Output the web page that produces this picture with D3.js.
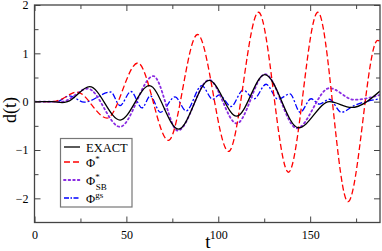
<!DOCTYPE html>
<html>
<head>
<meta charset="utf-8">
<script src="https://cdn.jsdelivr.net/npm/d3@7"></script>
<style>
  body { margin: 0; background: #fff; }
  text { font-family: "Liberation Serif", "DejaVu Serif", serif; }
</style>
</head>
<body>
<svg id="chart" width="382" height="251"></svg>
<script>
// values (t, d)
var exactPts = [[0,0],[10,0],[15,-0.02],[18,0],[30,0.31],[46.6,-0.38],[62.5,0.33],[78.3,-0.57],
  [95,0.44],[110,-0.3],[125.3,0.56],[143.7,-0.54],[160.5,0.0],[172.5,-0.12],[188,0.22]];
var phiPts = [[0,0],[10,0],[14,0.04],[23,0.2],[39.5,-0.34],[56.2,0.8],[72.9,-0.8],[88.7,1.39],
  [105.6,-1.03],[121.9,1.85],[138.2,-1.46],[154.2,1.85],[170.6,-2.07],[186.7,1.27],[188,1.25]];
var phiSBPts = [[0,0],[15,0],[29,0.27],[46.5,-0.52],[64.7,0.53],[78,-0.6],[95,0.45],[110,-0.45],
  [125.5,0.57],[142.8,-0.55],[160.5,0.28],[174,0.04],[188,0.14]];
var phiGSPts = [[0,0],[12,0],[19,0.12],[27,-0.01],[41.5,0.2],[46.5,-0.08],[52.5,0.21],[58.5,-0.13],
  [63,0.12],[68.5,-0.22],[76.5,0.1],[82.5,-0.19],[91,0.33],[97,0.05],[100.5,0.14],[107,-0.1],
  [113.5,0.24],[119.5,0.06],[126,0.36],[132.5,0.05],[139,0.16],[144.6,-0.22],[150.5,0.06],
  [155,-0.05],[160.5,0.05],[167,-0.22],[174,-0.08],[188,0.06]];

var xMajor = [0, 50, 100, 150];
var yMajor = [-2, -1, 0, 1, 2];

var series = [
  {name: 'EXACT', pts: exactPts, color: '#000', dash: null, w: 1.3},
  {name: 'phi', pts: phiPts, color: '#ff0000', dash: '6,3', w: 1.3},
  {name: 'phiSB', pts: phiSBPts, color: '#8a2be2', dash: '1.6,3', w: 1.8},
  {name: 'phiGS', pts: phiGSPts, color: '#0000ff', dash: '6,2,2,2', w: 1.3}
];

var svg = d3.select('#chart');
var pLeft = 34.5, pRight = 380, pTop = 5, pBottom = 222.5;

var x = d3.scaleLinear().domain([0, 188]).range([pLeft, pRight]);
var y = d3.scaleLinear().domain([-2.5, 2]).range([pBottom, pTop]);

svg.append('clipPath').attr('id', 'clip')
  .append('rect').attr('x', pLeft).attr('y', pTop)
  .attr('width', pRight - pLeft).attr('height', pBottom - pTop);

var line = d3.line()
  .x(function(d) { return x(d[0]); })
  .y(function(d) { return y(d[1]); })
  .curve(d3.curveMonotoneX);

var plot = svg.append('g').attr('clip-path', 'url(#clip)');
[series[3], series[2], series[1], series[0]].forEach(function(s) {
  plot.append('path')
    .attr('d', line(s.pts))
    .attr('fill', 'none')
    .attr('stroke', s.color)
    .attr('stroke-width', s.w)
    .attr('stroke-dasharray', s.dash)
    .attr('stroke-linecap', s.name == 'phiSB' ? 'round' : 'butt');
});

// axes with inward ticks on all four sides
var xMinor = d3.range(25, 188, 50);
var yMinor = [-1.5, -0.5, 0.5, 1.5];

function addAxis(ax, tr, minorAx) {
  var g = svg.append('g').attr('transform', tr).call(ax);
  g.select('.domain').remove();
  g.selectAll('.tick line').attr('stroke', '#444').attr('stroke-width', 1);
  g.selectAll('.tick text').attr('fill', '#000').style('font-size', '12px')
    .style('font-family', '"Liberation Serif", serif');
  var m = svg.append('g').attr('transform', tr).call(minorAx);
  m.select('.domain').remove();
  m.selectAll('.tick line').attr('stroke', '#444').attr('stroke-width', 1);
}
addAxis(d3.axisBottom(x).tickValues(xMajor).tickSize(-6).tickPadding(8).tickFormat(d3.format('d')),
  'translate(0,' + pBottom + ')',
  d3.axisBottom(x).tickValues(xMinor).tickSize(-4).tickFormat(''));
addAxis(d3.axisTop(x).tickValues(xMajor).tickSize(-6).tickFormat(''),
  'translate(0,' + pTop + ')',
  d3.axisTop(x).tickValues(xMinor).tickSize(-4).tickFormat(''));
addAxis(d3.axisLeft(y).tickValues(yMajor).tickSize(-6).tickPadding(6).tickFormat(d3.format('d')),
  'translate(' + pLeft + ',0)',
  d3.axisLeft(y).tickValues(yMinor).tickSize(-4).tickFormat(''));
addAxis(d3.axisRight(y).tickValues(yMajor).tickSize(-6).tickFormat(''),
  'translate(' + pRight + ',0)',
  d3.axisRight(y).tickValues(yMinor).tickSize(-4).tickFormat(''));

svg.append('rect')
  .attr('x', pLeft).attr('y', pTop)
  .attr('width', pRight - pLeft).attr('height', pBottom - pTop)
  .attr('fill', 'none').attr('stroke', '#444').attr('stroke-width', 1.3);

// axis titles
svg.append('text').attr('x', 208).attr('y', 248)
  .attr('text-anchor', 'middle').style('font-size', '19px').text('t');
svg.append('text')
  .attr('transform', 'translate(16,110) rotate(-90)')
  .attr('text-anchor', 'middle').style('font-size', '18px').text('d(t)');

// legend
var lg = svg.append('g');
lg.append('rect').attr('x', 60.5).attr('y', 138.5).attr('width', 71.5).attr('height', 68.5)
  .attr('fill', '#fff').attr('stroke', '#777').attr('stroke-width', 1.2);

var legendY = [147, 162, 180, 198];
series.forEach(function(s, i) {
  var ly = legendY[i];
  lg.append('line').attr('x1', 64).attr('x2', 80).attr('y1', ly).attr('y2', ly)
    .attr('stroke', s.color).attr('stroke-width', s.w)
    .attr('stroke-dasharray', s.name == 'phiGS' ? '5,1.5,1.5,1.5' : s.dash)
    .attr('stroke-linecap', s.name == 'phiSB' ? 'round' : 'butt');
  var t = lg.append('text').attr('x', 86).attr('y', ly + 4.5).style('font-size', '12.5px');
  if (s.name == 'EXACT') {
    t.text('EXACT');
  } else {
    t.append('tspan').text('\u03A6');
    if (s.name == 'phi') {
      t.append('tspan').attr('dy', -5).style('font-size', '9px').text('*');
    } else if (s.name == 'phiSB') {
      t.append('tspan').attr('dy', -5).style('font-size', '9px').text('*');
      t.append('tspan').attr('dx', -4).attr('dy', 10).style('font-size', '9px').text('SB');
    } else {
      t.append('tspan').attr('dy', -5).style('font-size', '9px').text('gs');
    }
  }
});
</script>
</body>
</html>
